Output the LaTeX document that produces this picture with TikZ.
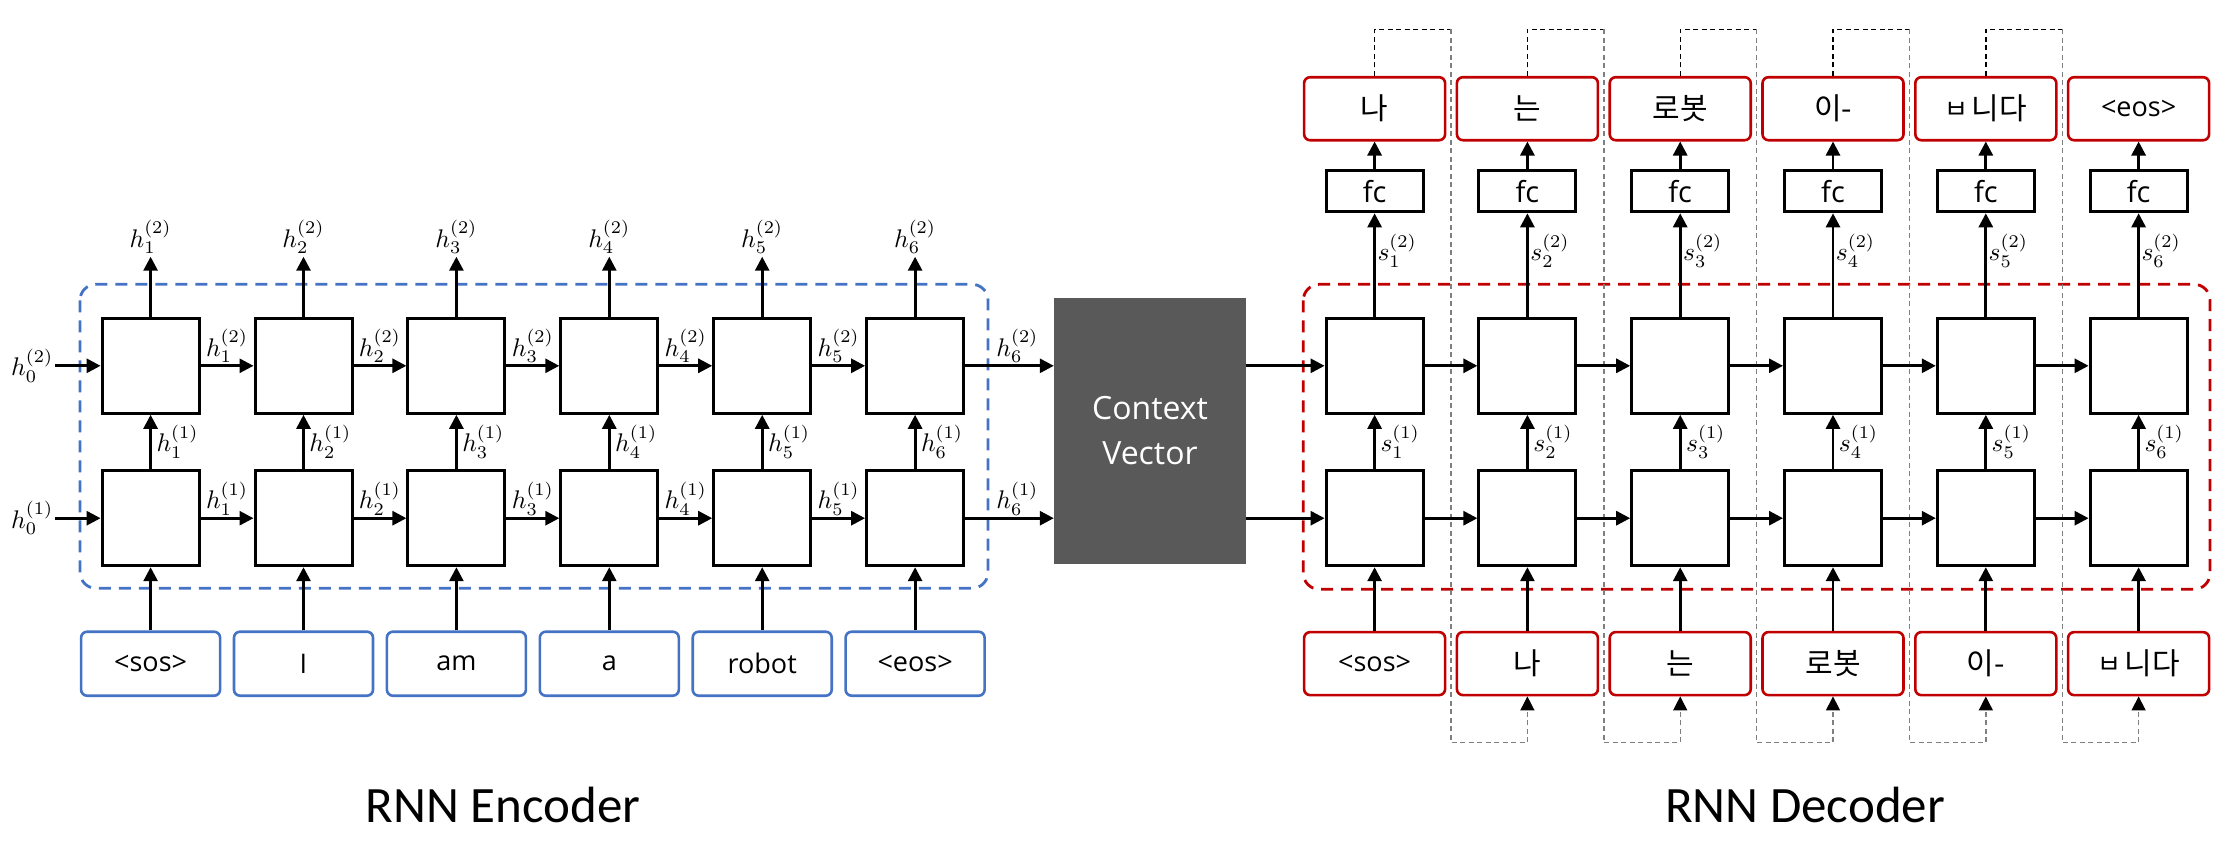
\documentclass[tikz,border=0pt]{standalone}
\usepackage{graphicx}
\usepackage{fontspec}
\setmainfont{Open Sans}
\newfontfamily\krfont{Noto Sans CJK KR}
\newfontfamily\titlefont{Carlito}
\usetikzlibrary{arrows.meta,calc}
\definecolor{encblue}{HTML}{4472C4}
\definecolor{decred}{HTML}{C00000}
\definecolor{ctxgray}{HTML}{595959}
\definecolor{fbgray}{HTML}{7F7F7F}
\pgfdeclarelayer{bg}
\pgfsetlayers{bg,main}
\newcommand{\kortext}[1]{{\krfont\fontsize{30}{30}\selectfont #1}}
\newcommand{\bnida}{{\krfont\fontsize{30}{30}\selectfont\raisebox{1pt}{\fontsize{26}{26}\selectfont ㅂ}\hspace{3pt}니다}}
\newcommand{\mlab}[1]{\scalebox{2.55}{$#1$}}
\tikzset{
  cell/.style={draw=black, line width=3pt, minimum width=97pt, minimum height=95pt, inner sep=0pt, fill=white},
  fcbox/.style={draw=black, line width=3pt, minimum width=97pt, minimum height=41pt, inner sep=0pt, fill=white, font=\fontsize{29}{29}\selectfont},
  encin/.style={draw=encblue, line width=2.6pt, rounded corners=6pt, minimum width=139pt, minimum height=64pt, inner sep=0pt, font=\fontsize{27}{27}\selectfont},
  dectok/.style={draw=decred, line width=2.6pt, rounded corners=6pt, minimum width=141pt, minimum height=63pt, inner sep=0pt, font=\fontsize{27}{27}\selectfont},
  arr/.style={line width=2.8pt, -{Triangle[length=14pt,width=14pt]}},
  fbarr/.style={draw=fbgray, line width=1.4pt, dash pattern=on 5pt off 3.5pt, -{Triangle[length=14pt,width=14pt,color=black]}},
  fbtop/.style={draw=black, line width=1.4pt, dash pattern=on 5pt off 3.5pt},
  lab/.style={font=\fontsize{10}{12}\selectfont, inner sep=1.5pt},
  titletext/.style={font=\titlefont\fontsize{51}{51}\selectfont, inner sep=0pt, anchor=base},
}
\begin{document}
\begin{tikzpicture}[x=1pt,y=-1pt]
\useasboundingbox (0,0) rectangle (2227,854);

% ---------- cells ----------
\foreach \i in {1,...,6}{
  \pgfmathsetmacro{\ex}{150.6+152.9*(\i-1)}
  \pgfmathsetmacro{\dx}{1374.6+152.8*(\i-1)}
  \node[cell] (eu\i) at (\ex,365.8) {};
  \node[cell] (el\i) at (\ex,518.2) {};
  \node[cell] (du\i) at (\dx,365.8) {};
  \node[cell] (dl\i) at (\dx,518.2) {};
  \node[fcbox] (fc\i) at (\dx,191.3) {fc};
  \coordinate (eo\i) at (\ex,256.7);
}

% ---------- encoder inputs ----------
\foreach \i/\t in {1/{<sos>},2/{I},3/{am},4/{a},5/{robot},6/{<eos>}}{
  \pgfmathsetmacro{\ex}{150.6+152.9*(\i-1)}
  \node[encin] (ei\i) at (\ex,663.7) {\t};
}

% ---------- decoder inputs / outputs ----------
\foreach \i/\t in {1/{<sos>},2/{\kortext{나}},3/{\kortext{는}},4/{\kortext{로봇}},5/{\kortext{이-}},6/{\bnida}}{
  \pgfmathsetmacro{\dx}{1374.6+152.8*(\i-1)}
  \node[dectok] (di\i) at (\dx,663.6) {\t};
}
\foreach \i/\t in {1/{\kortext{나}},2/{\kortext{는}},3/{\kortext{로봇}},4/{\kortext{이-}},5/{\bnida},6/{<eos>}}{
  \pgfmathsetmacro{\dx}{1374.6+152.8*(\i-1)}
  \node[dectok] (do\i) at (\dx,108.7) {\t};
}

% ---------- context vector ----------
\node[fill=ctxgray, minimum width=192pt, minimum height=266pt, inner sep=0pt, text=white, align=center,
      font=\fontsize{32}{45}\selectfont] (ctx) at (1150,431) {Context\\Vector};

% ---------- titles ----------
\node[titletext] (enctitle) at (503,822.7) {RNN Encoder};
\node[titletext] (dectitle) at (1805,822.7) {RNN Decoder};

% ---------- background: frames and feedback ----------
\begin{pgfonlayer}{bg}
\draw[encblue, line width=2.8pt, dash pattern=on 12pt off 8pt, rounded corners=16pt] (80,284.3) rectangle (988,588.3);
\draw[decred, line width=2.8pt, dash pattern=on 12pt off 8pt, rounded corners=16pt] (1303.3,284.3) rectangle (2210,589.3);
\foreach \i [count=\j from 2] in {1,...,5}{
  \pgfmathsetmacro{\xa}{1374.6+152.8*(\i-1)}
  \pgfmathsetmacro{\xg}{1374.6+152.8*(\i-1)+76.4}
  \pgfmathsetmacro{\xb}{1374.6+152.8*\i}
  \coordinate (ft\i) at (\xa,29.3);
  \coordinate (fr\i) at (\xg,29.3);
  \coordinate (fb\i) at (\xg,742.7);
  \coordinate (fe\i) at (\xb,742.7);
  \draw[fbtop] (do\i.north) -- (ft\i) -- (fr\i);
  \draw[fbarr] (fr\i) -- (fb\i) -- (fe\i) -- (di\j.south);
}
\end{pgfonlayer}

% ---------- encoder connectors ----------
\coordinate (h0u) at (55,365.8);
\coordinate (h0l) at (55,518.2);
\draw[arr] (h0u) -- (eu1.west);
\draw[arr] (h0l) -- (el1.west);
\node[lab, anchor=east] (h0ulab) at (h0u) {\mlab{h_0^{(2)}}};
\node[lab, anchor=east] (h0llab) at (h0l) {\mlab{h_0^{(1)}}};
\foreach \i [count=\j from 2] in {1,...,5}{
  \draw[arr] (eu\i.east) -- node[lab, above] {\mlab{h_\i^{(2)}}} (eu\j.west);
  \draw[arr] (el\i.east) -- node[lab, above] {\mlab{h_\i^{(1)}}} (el\j.west);
}
\foreach \i in {1,...,6}{
  \draw[arr] (ei\i.north) -- (el\i.south);
  \draw[arr] (el\i.north) -- node[lab, right, xshift=3pt] {\mlab{h_\i^{(1)}}} (eu\i.south);
  \draw[arr] (eu\i.north) -- (eo\i) node[lab, above] {\mlab{h_\i^{(2)}}};
}
\draw[arr] (eu6.east) -- node[lab, above, xshift=8pt] {\mlab{h_6^{(2)}}} (eu6.east -| ctx.west);
\draw[arr] (el6.east) -- node[lab, above, xshift=8pt] {\mlab{h_6^{(1)}}} (el6.east -| ctx.west);

% ---------- decoder connectors ----------
\draw[arr] (ctx.east |- du1.west) -- (du1.west);
\draw[arr] (ctx.east |- dl1.west) -- (dl1.west);
\foreach \i [count=\j from 2] in {1,...,5}{
  \draw[arr] (du\i.east) -- (du\j.west);
  \draw[arr] (dl\i.east) -- (dl\j.west);
}
\foreach \i in {1,...,6}{
  \draw[arr] (di\i.north) -- (dl\i.south);
  \draw[arr] (dl\i.north) -- node[lab, right, xshift=3pt] {\mlab{s_\i^{(1)}}} (du\i.south);
  \draw[arr] (du\i.north) -- node[lab, right, pos=0.64] {\mlab{s_\i^{(2)}}} (fc\i.south);
  \draw[arr] (fc\i.north) -- (do\i.south);
}
\end{tikzpicture}
\end{document}
